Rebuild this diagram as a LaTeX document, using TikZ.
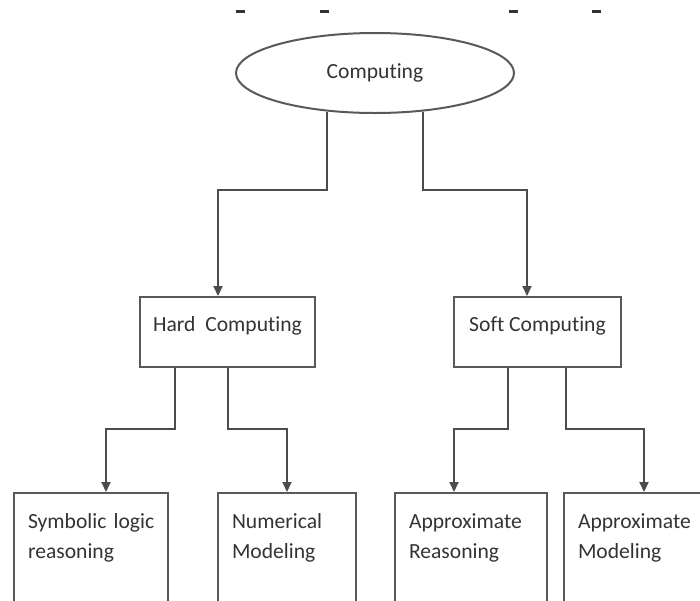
\documentclass[tikz,border=0pt]{standalone}
\usepackage{fontspec}
\setmainfont{Carlito}[Ligatures=NoCommon]
\usetikzlibrary{shapes.geometric, arrows.meta}

\begin{document}
\begin{tikzpicture}[
    x=0.5pt, y=-0.5pt,
    font=\fontsize{10.8}{15}\selectfont,
    root/.style={ellipse, draw=black!65, line width=1pt, text=black!80,
                 minimum width=139pt, minimum height=40pt, inner sep=0pt},
    branch/.style={rectangle, draw=black!65, line width=1pt, text=black!80, anchor=north west,
                   inner sep=0pt, text height=17pt, text depth=18pt},
    leaf/.style={rectangle, draw=black!65, line width=1pt, text=black!80, anchor=north west,
                 inner xsep=7pt, inner ysep=0pt, text height=17.5pt, text depth=56pt, align=left},
    arrow/.style={-{Triangle[length=5pt, width=4.5pt]}, draw=black!70, line width=1pt},
    cut/.style={fill=black!80}
]

% --- Marco ---
\clip (0,0) rectangle (700,600);

% --- Restos del titulo ---
\fill[cut] (236,10) rectangle (245,13);
\fill[cut] (320,10) rectangle (329,13);
\fill[cut] (509,10) rectangle (518,13);
\fill[cut] (592,10) rectangle (601,13);

% --- Nodo raiz ---
\node[root] (comp) at (375,73) {Computing};

% --- Segundo nivel ---
\node[branch, minimum width=87.5pt] (hard) at (139,296) {Hard\ \ Computing};
\node[branch, minimum width=83.5pt] (soft) at (453,296) {Soft Computing};

% --- Hojas ---
\node[leaf, text width=63pt] (symb) at (13,492) {Symbolic~logic\\reasoning};
\node[leaf, text width=55pt] (numer) at (217,492) {Numerical\\Modeling};
\node[leaf, text width=62pt] (appr) at (394,492) {Approximate\\Reasoning};
\node[leaf, text width=61pt] (apmod) at (563,492) {Approximate\\Modeling};

% --- Flechas ---
\draw[arrow] (comp.219) -- ++(0,78) -| ([xshift=-4.75pt]hard.north);
\draw[arrow] (comp.321) -- ++(0,78) -| ([xshift=-5.25pt]soft.north);

\draw[arrow] ([xshift=-26.25pt]hard.south) -- ++(0,61) -| ([xshift=7.5pt]symb.north);
\draw[arrow] (hard.south) -- ++(0,61) -| (numer.north);

\draw[arrow] ([xshift=-14.75pt]soft.south) -- ++(0,61) -| ([xshift=-8.5pt]appr.north);
\draw[arrow] ([xshift=14.25pt]soft.south) -- ++(0,61) -| ([xshift=2.5pt]apmod.north);
\end{tikzpicture}
\end{document}
